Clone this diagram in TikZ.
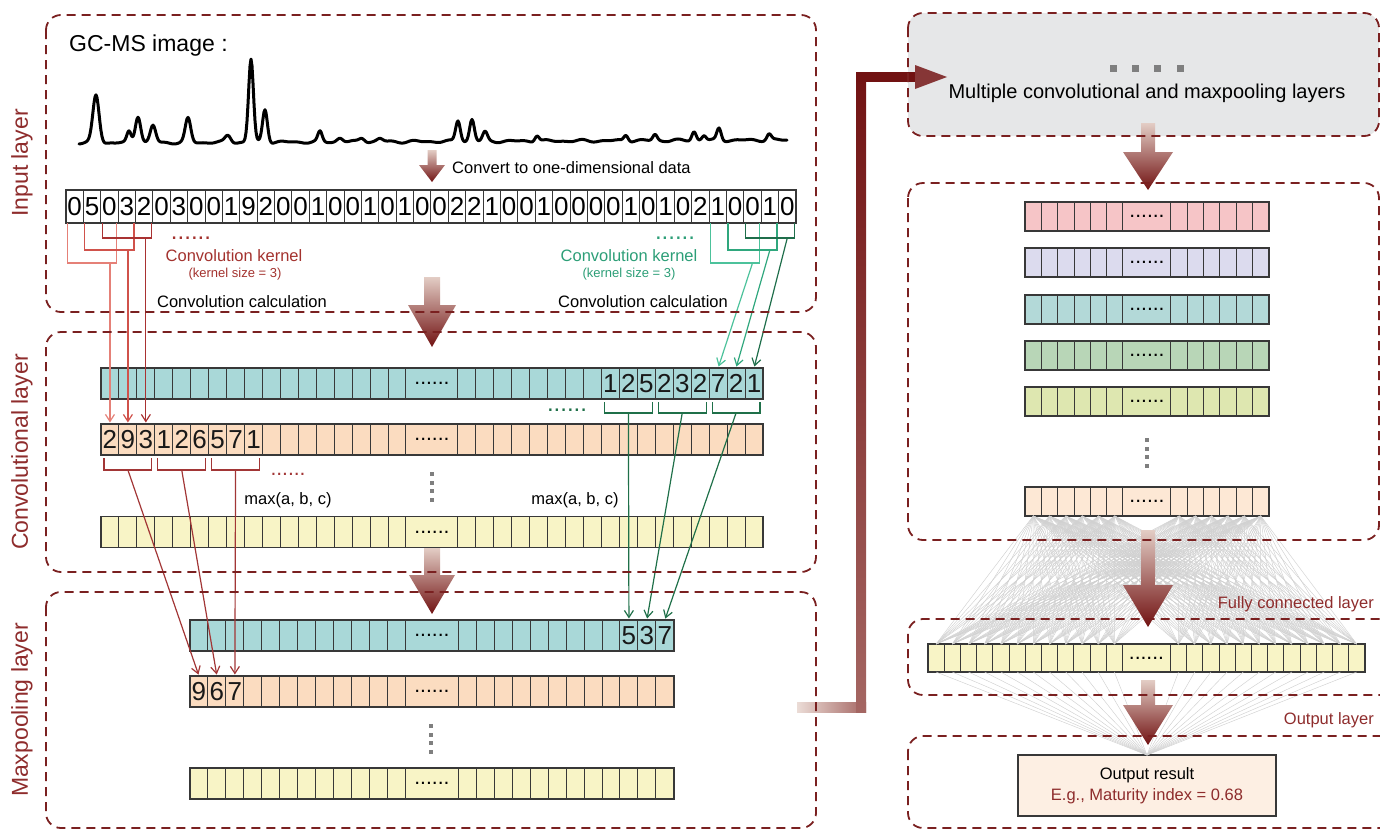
\documentclass[tikz,border=0pt]{standalone}
\usepackage{fontspec}
\setmainfont{Liberation Sans}
\usetikzlibrary{arrows.meta}

\definecolor{panelred}{HTML}{7A2020}
\definecolor{labelred}{HTML}{8E2C2C}
\definecolor{kred}{HTML}{A3322E}
\definecolor{kgreen}{HTML}{2C9E77}
\definecolor{redA}{HTML}{E58077}
\definecolor{redB}{HTML}{D0524B}
\definecolor{redC}{HTML}{A93232}
\definecolor{grnA}{HTML}{4CC29B}
\definecolor{grnB}{HTML}{2FA77D}
\definecolor{grnC}{HTML}{1F6E4B}
\definecolor{poolred}{HTML}{A23636}
\definecolor{poolgrn}{HTML}{1F7049}
\definecolor{cellline}{HTML}{383838}
\definecolor{cteal}{HTML}{A9D8D8}
\definecolor{corange}{HTML}{FBDCC0}
\definecolor{cyellow}{HTML}{F8F4C6}
\definecolor{cpink}{HTML}{F6C5C7}
\definecolor{clav}{HTML}{DCDBEE}
\definecolor{cteal2}{HTML}{B3D9D8}
\definecolor{cgreen}{HTML}{B8D6B7}
\definecolor{clime}{HTML}{DEE7B0}
\definecolor{cpeach}{HTML}{FDE8D5}
\definecolor{outfill}{HTML}{FDEFE3}
\definecolor{panelgray}{HTML}{E6E7E8}
\definecolor{dotgray}{HTML}{7F7F7F}
\definecolor{fcgray}{HTML}{D0D0D0}
\definecolor{arrtop}{HTML}{E3CDC5}
\definecolor{arrbot}{HTML}{711212}

\tikzset{
  panel/.style={draw=panelred, line width=1.8pt, dash pattern=on 9pt off 6pt, rounded corners=15pt},
  cell/.style={draw=cellline, line width=1pt, inner sep=0pt, outer sep=0pt},
  rowline/.style={draw=cellline, line width=1.5pt},
  digit/.style={font=\fontsize{26}{28}\selectfont, inner sep=0pt, text=black!90},
  dotrow/.style={font=\fontsize{21}{22}\selectfont},
  kdots/.style={font=\fontsize{24}{26}\selectfont, inner sep=0pt},
  txt/.style={font=\fontsize{16.5}{19}\selectfont, inner sep=0pt},
  small/.style={font=\fontsize{13}{15}\selectfont, inner sep=0pt},
  layer/.style={font=\fontsize{23}{26}\selectfont, text=labelred, rotate=90, inner sep=0pt},
  kline/.style={line width=1.2pt},
  barb/.style={-{Straight Barb[length=7pt,width=9pt]}, line width=1.2pt, shorten >=1.5pt},
  fcline/.style={draw=fcgray, line width=0.45pt},
}

\newcommand{\featrow}[8]{%
  \foreach \k in {1,...,#4}{%
    \node[cell, fill=#8, minimum width=#5, minimum height=#7] (#1l\k) at ({#2+(\k-0.5)*#5},#3) {};
    \node[cell, fill=#8, minimum width=#5, minimum height=#7] (#1r\k) at ({#2+#4*#5+#6+(\k-0.5)*#5},#3) {};
  }
  \node[cell, fill=#8, minimum width=#6, minimum height=#7, dotrow] (#1d) at ({#2+#4*#5+0.5*#6},#3) {......};
  \draw[rowline] (#1l1.north west) rectangle (#1r#4.south east);
}

\newcommand{\bigarrow}[6]{%
  \shade[top color=arrtop, bottom color=arrbot]
    (#1-#5,#2) -- (#1+#5,#2) -- (#1+#5,#3) -- (#1+#6,#3) -- (#1,#4) -- (#1-#6,#3) -- (#1-#5,#3) -- cycle;
}

\begin{document}
\begin{tikzpicture}[x=1pt,y=-1pt,
  declare function={pk(\t,\c,\w)=exp(-1*pow(min(abs(\t-\c)/\w,6),2));}]
  \useasboundingbox (0,0) rectangle (1380,830);

  \fill[panelgray, rounded corners=15pt] (908,13) rectangle (1379,136);

  \node[anchor=west, font=\fontsize{23}{25}\selectfont, inner sep=0pt] (gcms) at (69,46) {GC-MS image :};
  \draw[line width=3pt, line join=round, line cap=round] plot[domain=79:787, samples=709]
    (\x,{143 - 3*(\x-79)/708 + 0.9*sin(11*\x) + 0.6*sin(19*\x)
      - 48*pk(\x,96,4.4) - 11*pk(\x,129,3) - 27*pk(\x,138,3.8) - 17*pk(\x,153,3.8)
      - 24*pk(\x,188,3.8) - 7*pk(\x,228,4) - 83*pk(\x,251,3.4) - 33*pk(\x,265,3.4)
      - 10*pk(\x,320,3) - 4*pk(\x,340,4) - 4*pk(\x,362,4) - 3*pk(\x,380,4)
      - 21*pk(\x,458,3.3) - 22*pk(\x,472,3.3) - 9*pk(\x,485,3.3) - 6*pk(\x,537,3)
      - 6*pk(\x,626,3) - 6*pk(\x,655,3) - 9*pk(\x,694,3) - 5*pk(\x,704,3)
      - 12*pk(\x,719,3) - 6*pk(\x,769,3)});

  \foreach \d [count=\i] in {0,5,0,3,2,0,3,0,0,1,9,2,0,0,1,0,0,1,0,1,0,0,2,2,1,0,0,1,0,0,0,0,1,0,1,0,2,1,0,0,1,0}
    \node[cell, fill=white, minimum width=17.38, minimum height=33, font=\fontsize{26}{28}\selectfont] (in\i) at ({66+(\i-0.5)*17.38},206.5) {\d};
  \draw[rowline] (in1.north west) rectangle (in42.south east);

  \featrow{ct}{101}{383.5}{17}{17.94}{52}{31}{cteal}
  \featrow{co}{101}{439.5}{17}{17.94}{52}{31}{corange}
  \featrow{cy}{101}{532}{17}{17.94}{52}{31}{cyellow}
  \featrow{mt}{190}{635.5}{12}{17.95}{53}{31}{cteal}
  \featrow{mo}{190}{691.5}{12}{17.95}{53}{31}{corange}
  \featrow{my}{190}{783.5}{12}{17.95}{53}{31}{cyellow}

  \featrow{pa}{1025}{216.5}{6}{16.33}{48}{29}{cpink}
  \featrow{pb}{1025}{262.5}{6}{16.33}{48}{29}{clav}
  \featrow{pc}{1025}{309.5}{6}{16.33}{48}{29}{cteal2}
  \featrow{pd}{1025}{355.5}{6}{16.33}{48}{29}{cgreen}
  \featrow{pe}{1025}{401.5}{6}{16.33}{48}{29}{clime}
  \featrow{po}{1025}{501.5}{6}{16.33}{48}{29}{cpeach}
  \featrow{fc}{928}{658}{12}{16.2}{48}{28}{cyellow}

  \foreach \d [count=\k from 9] in {1,2,5,2,3,2,7,2,1}
    \node[digit] (ctn\k) at (ctr\k) {\d};
  \foreach \d [count=\k] in {2,9,3,1,2,6,5,7,1}
    \node[digit] (con\k) at (col\k) {\d};
  \foreach \d [count=\k from 10] in {5,3,7}
    \node[digit] (mtn\k) at (mtr\k) {\d};
  \foreach \d [count=\k] in {9,6,7}
    \node[digit] (mon\k) at (mol\k) {\d};

  \node[cell, fill=outfill, line width=1.6pt, minimum width=258, minimum height=61, align=center,
    font=\fontsize{16.5}{21}\selectfont] (out) at (1147,785.5) {Output result\\\textcolor{labelred}{E.g., Maturity index = 0.68}};

  \foreach \s in {l,r}
    \foreach \i in {1,...,6}
      \foreach \t in {l,r}
        \foreach \j in {1,...,12}
          \draw[fcline] (po\s\i.south) -- (fc\t\j.north);
  \foreach \t in {l,r}
    \foreach \j in {1,...,12}
      \draw[fcline] (fc\t\j.south) -- (out.north);

  \foreach \k in {0,...,3}{
    \fill[dotgray] (430,472+\k*8.5) rectangle ++(4,4);
    \fill[dotgray] (429,724+\k*8.5) rectangle ++(4,4);
    \fill[dotgray] (1145,438+\k*8.5) rectangle ++(4,4);
  }
  \foreach \q in {1113,1135,1157,1180}
    \fill[dotgray] (\q-3.5,64.5) rectangle ++(7,7);

  \bigarrow{432}{150}{165}{182}{4.5}{13}
  \bigarrow{432}{277}{305}{347}{8}{24}
  \bigarrow{432}{548}{575}{614}{8}{23}
  \bigarrow{1148}{123}{152}{190}{7}{25}
  \bigarrow{1148}{530}{585}{627}{7}{25}
  \bigarrow{1148}{680}{705}{745}{7}{25}

  \shade[left color=arrtop!70!white, right color=arrtop!45!arrbot] (797,702) rectangle (866,712);
  \shade[bottom color=arrtop!45!arrbot, top color=arrbot] (856,712) rectangle (866,72);
  \fill[arrbot] (856,72) rectangle (917,82);
  \fill[arrbot!85!white] (915,65) -- (947,77) -- (915,89) -- cycle;

  \coordinate (lv1) at (0,263);
  \coordinate (lv2) at (0,250);
  \coordinate (lv3) at (0,238);
  \coordinate (pr) at (0,470);
  \coordinate (pg) at (0,413);

  \draw[redA, kline] ([xshift=1.5]in1.south west) -- ++(0,40) -| ([xshift=-1.5]in3.south east);
  \draw[redB, kline] ([xshift=1.5]in2.south west) -- ++(0,27) -| ([xshift=-1.5]in4.south east);
  \draw[redC, kline] ([xshift=1.5]in3.south west) -- ++(0,15) -| ([xshift=-1.5]in5.south east);
  \draw[redA, barb] (col1 |- lv1) -- (col1.north);
  \draw[redB, barb] (col2 |- lv2) -- (col2.north);
  \draw[redC, barb] (col3 |- lv3) -- (col3.north);

  \draw[grnA, kline] ([xshift=1.5]in38.south west) -- ++(0,40) -| ([xshift=-1.5]in40.south east);
  \draw[grnB, kline] ([xshift=1.5]in39.south west) -- ++(0,27) -| ([xshift=-1.5]in41.south east);
  \draw[grnC, kline] ([xshift=1.5]in40.south west) -- ++(0,15) -| ([xshift=-1.5]in42.south east);
  \draw[grnA, barb] (in40 |- lv1) -- (ctr15.north);
  \draw[grnB, barb] (in41 |- lv2) -- (ctr16.north);
  \draw[grnC, barb] (in42 |- lv3) -- (ctr17.north);

  \foreach \a/\b/\c/\t in {1/3/2/1,4/6/5/2,7/9/8/3}{
    \draw[poolred, kline] ([shift={(3,3)}]col\a.south west) -- ++(0,12) -| ([shift={(-3,3)}]col\b.south east);
    \draw[poolred, barb] (col\c |- pr) -- (mol\t.north);
  }
  \foreach \a/\b/\c/\t in {9/11/10/10,12/14/13/11,15/17/16/12}{
    \draw[poolgrn, kline] ([shift={(3,3)}]ctr\a.south west) -- ++(0,11) -| ([shift={(-3,3)}]ctr\b.south east);
    \draw[poolgrn, barb] (ctr\c |- pg) -- (mtr\t.north);
  }

  \draw[panel] (46,15) rectangle (816,312);
  \draw[panel] (46,332) rectangle (816,572);
  \draw[panel] (46,592) rectangle (816,828);
  \draw[panel] (908,13) rectangle (1379,136);
  \draw[panel] (908,183) rectangle (1379,540);
  \draw[panel] (908,619) rectangle (1400,695);
  \draw[panel] (908,736) rectangle (1400,828);

  \node[layer] (lin) at (22,163) {Input layer};
  \node[layer] (lconv) at (22,452) {Convolutional layer};
  \node[layer] (lpool) at (22,710) {Maxpooling layer};
  \node[txt, anchor=west] (conv1d) at (452,168) {Convert to one-dimensional data};
  \node[kdots, text=kred] (rdots) at (191,238) {......};
  \node[txt, text=kred] (kr) at (234,256) {Convolution kernel};
  \node[small, text=kred] (ksr) at (235,274) {(kernel size = 3)};
  \node[txt] (ccr) at (242,302) {Convolution calculation};
  \node[kdots, text=kgreen] (gdots) at (675,238) {......};
  \node[txt, text=kgreen] (kg) at (629,256) {Convolution kernel};
  \node[small, text=kgreen] (ksg) at (629,274) {(kernel size = 3)};
  \node[txt] (ccg) at (643,302) {Convolution calculation};
  \node[kdots, font=\fontsize{21}{22}\selectfont, text=poolred] (pdots) at (288,474) {......};
  \node[kdots, text=poolgrn] (qdots) at (567,410) {......};
  \node[txt] (mx1) at (288,500) {max(a, b, c)};
  \node[txt] (mx2) at (575,500) {max(a, b, c)};
  \node[font=\fontsize{20}{22}\selectfont, inner sep=0pt] (multi) at (1147,93) {Multiple convolutional and maxpooling layers};
  \node[txt, text=labelred, anchor=east] (fcl) at (1374,604) {Fully connected layer};
  \node[txt, text=labelred, anchor=east] (outl) at (1374,720) {Output layer};
\end{tikzpicture}
\end{document}
